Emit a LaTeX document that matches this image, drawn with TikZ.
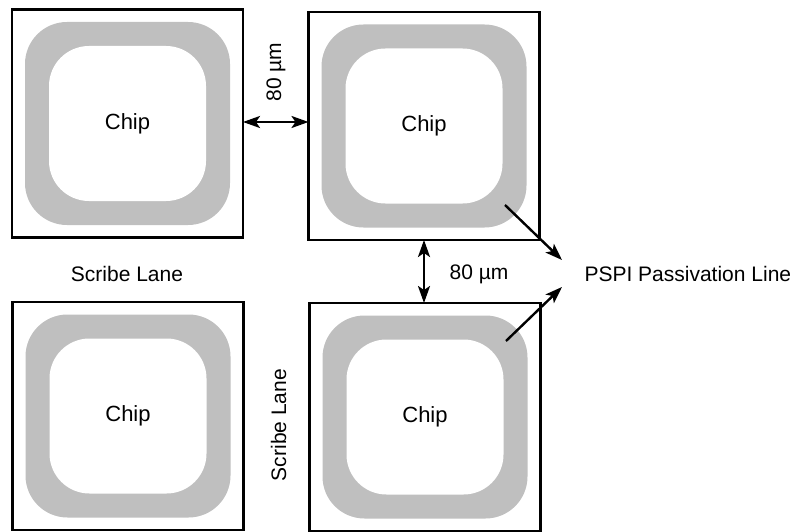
\documentclass[tikz,border=0pt]{standalone}
\usepackage{fontspec}
\setmainfont{Liberation Sans}
\usetikzlibrary{arrows.meta}

\begin{document}
\begin{tikzpicture}[x=1pt, y=-1pt,
      every node/.style = {font=\fontsize{21}{25}\selectfont},
      chipbox/.style = {draw, line width=2.5pt, outer sep=0pt,
        minimum width=231pt, minimum height=228pt},
      ring/.style = {fill=black!25, rounded corners=42pt,
        minimum width=205pt, minimum height=203pt},
      core/.style = {fill=white, rounded corners=40pt,
        font=\fontsize{22}{26}\selectfont,
        minimum width=157pt, minimum height=155pt},
      arr/.style = {line width=2.4pt, -{Stealth[length=17pt, width=12pt, inset=4pt]}},
      dim/.style = {line width=2.4pt, {Stealth[length=17pt, width=12pt, inset=4pt]}-{Stealth[length=17pt, width=12pt, inset=4pt]}}]
    \useasboundingbox (0,0) rectangle (798,532);
    % the four chips
    \foreach \name/\x/\y in {tl/127.5/123.5, tr/424/126, bl/128/416, br/425/417} {
      \node[chipbox] (\name) at (\x,\y) {};
      \node[ring] at (\name) {};
      \node[core] (\name chip) at (\name) {Chip};
    }
    % scribe lanes
    \draw[dim] (tl.east |- 0,122) -- (tr.west |- 0,122);
    \node[rotate=90] (gaph) at (276,72) {80 µm};
    \draw[dim] (tr.south) -- (tr.south |- br.north);
    \node (gapv) at (479,274) {80 µm};
    \node (laneh) at (127,274) {Scribe Lane};
    \node[rotate=90] (lanev) at (278.5,425) {Scribe Lane};
    % passivation
    \node[anchor=west] (pspi) at (581,274) {PSPI Passivation Line};
    \coordinate (pa) at (505,205);
    \coordinate (pb) at (506,341);
    \coordinate (ta) at (562,260);
    \coordinate (tb) at (562,287);
    \draw[arr] (pa) -- (ta);
    \draw[arr] (pb) -- (tb);
  \end{tikzpicture}
\end{document}
